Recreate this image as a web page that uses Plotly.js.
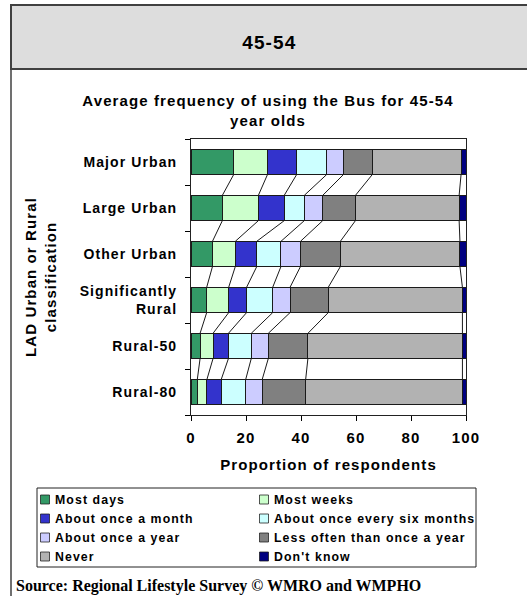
<!DOCTYPE html>
<html><head><meta charset="utf-8">
<script src="https://cdn.plot.ly/plotly-3.0.1.min.js"></script>
<style>
html,body{margin:0;padding:0;background:#fff;}
#chart{width:527px;height:596px;}
.main-svg text{letter-spacing:1.1px;}
.annotation[data-index="2"] text{letter-spacing:0px;}
.legend .legendpoints path{transform:translate(30px,0px) scale(0.75);}
.legend .scrollbox{clip-path:none !important;}
</style></head><body><div id="chart"></div>
<script>
const categories = ["Major Urban", "Large Urban", "Other Urban", "Significantly<br>Rural", "Rural-50", "Rural-80"];
const seriesNames = ["Most days", "Most weeks", "About once a month", "About once every six months",
  "About once a year", "Less often than once a year", "Never", "Don't know"];
const mostDays      = [15.5, 11.4, 7.8, 5.7, 3.3, 2.3];
const mostWeeks     = [12.3, 13.1, 8.3, 8.0, 4.7, 3.5];
const onceAMonth    = [10.6, 9.4, 7.8, 6.5, 5.6, 5.2];
const onceSixMonths = [10.9, 7.3, 8.8, 9.5, 8.3, 8.9];
const onceAYear     = [6.1, 6.7, 7.1, 6.3, 6.2, 6.0];
const lessOften     = [10.5, 11.9, 14.5, 13.9, 14.4, 15.8];
const never         = [32.3, 37.7, 43.5, 48.8, 56.2, 57.0];
const dontKnow      = [1.8, 2.5, 2.2, 1.3, 1.3, 1.3];
const xTicks = [0, 20, 40, 60, 80, 100];
const colors = ["#339966", "#CCFFCC", "#3333CC", "#CCFFFF", "#CCCCFF", "#808080", "#B2B2B2", "#000080"];

const series = [mostDays, mostWeeks, onceAMonth, onceSixMonths, onceAYear, lessOften, never, dontKnow];
const ypos = categories.map((c, i) => i);
const barW = 0.55;
const FONT = "Liberation Sans, Arial, sans-serif";

const traces = series.map((vals, k) => ({
  type: "bar", orientation: "h", name: seriesNames[k], x: vals, y: ypos, width: barW,
  marker: {color: colors[k], line: {color: "#1a1a1a", width: 1}},
  hoverinfo: "name+x"
}));

// series lines connecting the cumulative boundaries between adjacent bars
const cum = [];
let run = categories.map(() => 0);
series.slice(0, series.length - 1).forEach(vals => {
  run = run.map((r, i) => r + vals[i]);
  cum.push(run.slice());
});
const lx = [], ly = [];
cum.forEach(c => {
  for (let i = 0; i < categories.length - 1; i++) {
    lx.push(c[i], c[i + 1], null);
    ly.push(ypos[i] + barW / 2, ypos[i + 1] - barW / 2, null);
  }
});
traces.push({type: "scatter", mode: "lines", x: lx, y: ly, line: {color: "#1a1a1a", width: 1},
  showlegend: false, hoverinfo: "skip", cliponaxis: false});
// boundary tick marks axis
traces.push({type: "scatter", mode: "markers", x: [null], y: [null], yaxis: "y2", showlegend: false, hoverinfo: "skip"});

// pixel -> paper helpers (plot area 191..466 x 139..415)
const L = 191, R = 466, T = 139, B = 415;
const px = v => (v - L) / (R - L);
const py = v => (B - v) / (B - T);

const layout = {
  width: 527, height: 596,
  margin: {l: L, r: 527 - R, t: T, b: 596 - B, autoexpand: false},
  paper_bgcolor: "#ffffff", plot_bgcolor: "#ffffff",
  font: {family: FONT, color: "#000", size: 14, weight: "bold"},
  barmode: "stack",
  showlegend: true,
  title: {text: "Average frequency of using the Bus for 45-54<br>year olds",
    font: {family: FONT, size: 15, weight: "bold", color: "#000"},
    x: 268 / 527, xanchor: "center", xref: "container",
    y: 1 - 106 / 596, yanchor: "top", yref: "container"},
  xaxis: {range: [0, 100], tickvals: xTicks, ticks: "outside", ticklen: 5, tickcolor: "#000",
    showgrid: false, zeroline: false, showline: true, linecolor: "#222", linewidth: 1, mirror: true,
    tickfont: {family: FONT, size: 15, weight: "bold"}, ticklabelstandoff: 4,
    title: {text: "Proportion of respondents", font: {family: FONT, size: 15, weight: "bold"}, standoff: 14},
    fixedrange: true},
  yaxis: {range: [ypos.length - 0.5, -0.5], tickvals: ypos, ticktext: categories, ticks: "",
    showgrid: false, zeroline: false, showline: true, linecolor: "#222", linewidth: 1, mirror: true,
    tickfont: {family: FONT, size: 14, weight: "bold"}, ticklabelstandoff: 10, fixedrange: true},
  yaxis2: {overlaying: "y", range: [ypos.length - 0.5, -0.5],
    tickvals: ypos.concat([ypos.length]).map(v => v - 0.5), ticks: "outside", ticklen: 5, tickcolor: "#000",
    showticklabels: false, showgrid: false, zeroline: false, showline: false, fixedrange: true},
  legend: {orientation: "h", traceorder: "normal", x: px(15), xanchor: "left", y: py(485), yanchor: "top",
    entrywidth: 174, entrywidthmode: "pixels", borderwidth: 0, bgcolor: "rgba(0,0,0,0)",
    font: {family: FONT, size: 12.3, weight: "bold", color: "#000"}, tracegroupgap: 0},
  shapes: [
    {type: "rect", xref: "paper", yref: "paper", x0: px(11), x1: px(540), y0: py(5), y1: py(69),
      fillcolor: "#DDDDDD", line: {color: "#404040", width: 2}, layer: "below"},
    {type: "line", xref: "paper", yref: "paper", x0: px(11), x1: px(11), y0: py(69), y1: py(600),
      line: {color: "#404040", width: 1.5}},
    {type: "rect", xref: "paper", yref: "paper", x0: px(37), x1: px(476), y0: py(488), y1: py(567),
      fillcolor: "rgba(0,0,0,0)", line: {color: "#222", width: 1}}
  ],
  annotations: [
    {text: "45-54", xref: "paper", yref: "paper", x: px(269), y: py(42), showarrow: false,
      font: {family: FONT, size: 19, weight: "bold", color: "#000"}, xanchor: "center", yanchor: "middle"},
    {text: "LAD Urban or Rural<br>classification", xref: "paper", yref: "paper", x: px(40), y: py(277),
      showarrow: false, textangle: -90, font: {family: FONT, size: 15, weight: "bold", color: "#000"},
      xanchor: "center", yanchor: "middle"},
    {text: "Source: Regional Lifestyle Survey © WMRO and WMPHO", xref: "paper", yref: "paper",
      x: px(14), y: py(586), showarrow: false, xanchor: "left", yanchor: "middle",
      font: {family: "Liberation Serif, Times New Roman, serif", size: 16, weight: "bold", color: "#000"}}
  ]
};

Plotly.newPlot("chart", traces, layout, {displayModeBar: false, staticPlot: true});
</script></body></html>
